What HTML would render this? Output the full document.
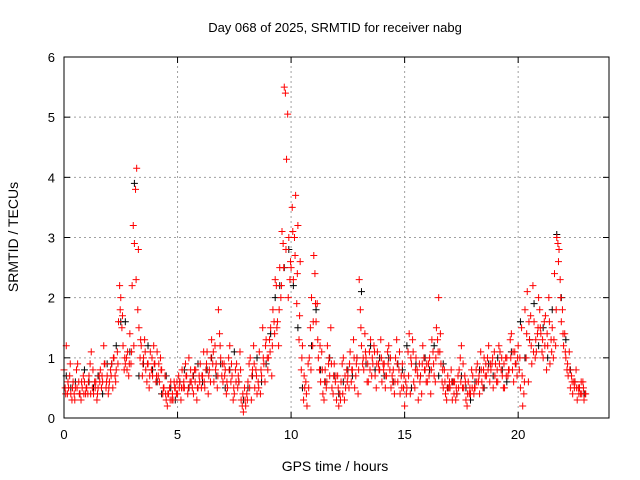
<!DOCTYPE html>
<html><head><meta charset="utf-8"><style>
body{margin:0;background:#fff;}
svg{display:block;font-family:"Liberation Sans",sans-serif;}
</style></head><body>
<svg id="chart" width="640" height="480">
<rect width="640" height="480" fill="#fff"/>
<text x="335" y="32" text-anchor="middle" font-size="13">Day 068 of 2025, SRMTID for receiver nabg</text>
<text x="335" y="471" text-anchor="middle" font-size="14">GPS time / hours</text>
<text transform="translate(18,237) rotate(-90)" text-anchor="middle" font-size="14">SRMTID / TECUs</text>
<g id="grid"></g><g id="ticks"></g><g id="black-series"></g><g id="red-series"></g>
<rect x="64" y="57" width="545" height="361" fill="none" stroke="#000" stroke-width="1"/>
</svg>
<script>
const xTicks=[0,5,10,15,20];
const yTicks=[0,1,2,3,4,5,6];
const redA=[0.8,1.2,0.5,0.4,0.6,0.5,0.9,0.4,0.5,0.6,
0.5,0.7,1.1,0.4,0.6,0.5,0.8,0.6,0.9,0.7,
0.6,0.9,1.0,0.8,1.6,2.0,1.2,0.9,1.1,1.4,
2.2,2.9,4.15,1.5,1.2,1.0,0.8,0.9,1.1,0.7,
0.9,1.1,0.6,0.8,0.5,0.3,0.4,0.6,0.3,0.5,
0.4,0.6,0.8,0.5,0.7,1.0,0.6,0.4,0.8,0.5,
0.9,0.7,0.5,1.1,0.8,1.3,0.6,0.9,1.8,1.0,
0.6,0.8,0.5,1.2,0.7,0.4,0.9,0.6,0.3,0.1,
0.2,0.6,1.0,0.8,0.5,0.4,1.1,0.7,0.9,1.3,
1.0,1.5,1.8,2.3,1.6,2.5,3.1,5.5,4.3,3.0,
2.5,2.3,3.7,3.2,2.6,1.2,0.5,0.2,1.0,2.0,
2.7,1.6,1.0,0.6,0.4,0.8,1.2,0.7,0.5,0.9,
0.3,0.2,0.6,1.0,0.5,0.7,1.1,0.8,0.5,1.0,
2.3,1.2,0.8,1.0,0.6,1.3,0.9,0.7,1.1,0.8,
0.6,0.9,0.7,1.2,0.5,0.8,1.0,0.6,0.4,0.9,
0.2,0.5,1.4,0.9,0.6,1.0,0.3,0.7,1.2,0.8,
0.6,1.0,1.3,0.7,1.5,2.0,0.9,0.5,0.4,0.7,
0.5,0.3,0.6,0.4,0.8,1.2,0.5,0.3,0.6,0.4,
0.7,0.5,0.9,0.4,0.6,1.0,0.7,1.2,0.8,0.5,
0.9,0.6,1.1,0.7,0.5,1.0,0.8,1.4,0.6,0.9,
1.2,0.5,0.2,1.8,2.1,1.3,0.9,1.6,1.1,2.0,
1.4,1.0,1.7,1.2,0.9,1.5,2.4,3.0,2.8,1.6,
1.2,1.0,0.7,0.5,0.4,0.6,0.3,0.5,0.4,0.3];
const redB=[0.5,0.4,0.7,0.3,0.4,0.8,0.6,0.3,0.7,0.4,
0.4,0.9,0.5,0.6,0.3,0.7,0.5,1.2,0.5,0.4,
0.8,0.5,0.7,1.1,2.2,1.5,0.8,1.0,0.7,0.9,
3.2,3.8,1.8,1.0,0.7,1.3,0.6,0.5,0.8,1.2,
0.6,0.7,1.0,0.4,0.7,0.2,0.5,0.3,0.6,0.4,
0.7,0.3,0.5,0.9,0.4,0.6,0.5,0.8,0.3,0.7,
0.5,1.1,0.8,0.4,0.6,0.9,1.2,0.5,1.4,0.7,
0.9,0.4,1.0,0.6,0.3,0.8,0.5,1.1,0.2,0.5,
0.4,0.9,0.3,1.2,0.8,0.6,0.4,1.5,0.6,1.0,
1.3,0.7,1.6,2.2,1.2,2.0,2.9,5.4,5.05,2.3,
3.5,3.0,1.9,1.3,0.8,0.3,0.6,0.9,1.5,1.2,
2.4,1.9,0.8,1.1,0.3,0.5,0.9,1.5,0.4,0.6,
0.7,0.4,0.9,0.3,0.8,0.5,0.6,1.3,0.7,0.4,
1.8,0.9,1.4,0.6,1.1,0.7,1.2,0.5,0.9,1.3,
0.9,0.5,1.1,0.8,0.7,0.4,1.3,0.8,0.7,0.5,
0.6,1.1,0.4,1.3,0.5,0.8,0.9,0.4,1.0,0.6,
0.9,0.4,1.1,0.6,1.3,1.1,0.6,0.8,0.3,0.5,
0.8,0.6,0.3,0.7,1.0,0.5,0.7,0.2,0.4,0.8,
0.4,0.8,0.6,1.1,0.5,0.7,1.0,0.6,0.9,1.1,
0.6,1.2,0.8,0.5,1.0,0.7,1.3,0.8,1.1,0.7,
0.8,1.5,0.4,1.0,0.6,1.7,2.2,1.0,1.4,1.8,
1.1,1.6,0.8,2.0,1.3,1.0,1.2,2.9,2.3,1.8,
1.4,0.8,1.1,0.7,0.6,0.8,0.5,0.4,0.6,0.4];
const redC=[0.4,0.6,0.9,0.5,0.3,0.5,0.4,0.6,0.4,0.5,
0.6,0.4,0.8,0.5,0.4,0.6,0.7,0.9,0.6,0.5,
0.7,1.0,0.6,0.9,1.8,1.7,1.0,0.8,0.9,1.1,
1.2,2.3,2.8,1.3,0.9,1.1,0.9,0.7,1.0,0.9,
0.7,0.9,0.8,0.5,0.4,0.4,0.3,0.4,0.5,0.6,
0.5,0.5,0.6,0.7,0.5,0.8,0.7,0.6,0.5,0.6,
0.7,0.6,0.9,0.7,1.0,1.1,0.8,0.7,1.2,0.9,
0.7,0.6,0.8,0.9,0.5,0.6,0.7,0.8,0.4,0.3,
0.3,0.5,0.7,0.9,0.7,0.5,0.8,1.0,1.2,0.8,
1.1,1.2,1.4,1.5,1.8,2.2,2.5,2.8,2.0,2.6,
3.1,2.7,2.4,1.7,1.0,0.7,0.4,0.5,0.8,1.6,
1.9,1.3,1.2,0.8,0.6,0.6,1.0,0.9,0.7,0.7,
0.5,0.3,0.4,0.7,0.6,0.9,0.8,1.0,0.9,0.8,
1.5,1.0,1.1,0.9,0.8,1.0,1.1,0.9,0.8,1.0,
0.8,0.7,0.9,1.0,0.6,0.6,0.9,1.1,0.5,0.7,
0.4,0.7,1.0,1.1,0.8,0.7,0.6,0.9,0.8,0.9,
0.7,0.8,0.9,1.0,1.1,1.4,0.8,0.6,0.5,0.6,
0.6,0.4,0.5,0.5,0.6,0.9,0.6,0.4,0.5,0.5,
0.5,0.6,0.7,0.8,0.8,0.9,0.8,0.9,1.0,0.7,
0.8,0.9,1.0,0.9,0.7,0.8,1.0,1.1,0.9,1.0,
1.0,0.7,0.6,1.4,1.6,1.2,1.1,1.3,1.5,1.5,
1.3,1.2,1.4,1.6,1.1,1.3,1.8,2.6,2.0,1.4,
1.1,0.9,0.8,0.6,0.5,0.5,0.4,0.6,0.5,0.4];
const blackV=[0.7,0.5,0.6,0.4,0.8,0.6,0.5,0.7,0.4,0.9,
0.9,1.2,1.6,1.6,1.1,3.9,0.7,0.9,1.2,0.8,
0.6,0.4,0.7,0.5,0.3,0.6,0.8,0.5,0.7,0.9,
0.6,0.8,1.0,0.7,0.9,0.5,0.8,1.1,0.6,0.3,
0.5,0.7,1.0,0.6,0.9,1.4,2.0,2.2,2.5,2.8,
2.2,1.5,0.5,0.2,1.2,1.8,0.8,0.6,1.0,0.7,
0.4,0.6,0.8,0.7,1.0,2.1,0.9,1.2,0.8,1.0,
0.7,1.0,0.6,0.9,0.8,1.2,0.5,0.9,0.7,1.0,
0.8,1.2,0.7,0.9,0.5,0.6,0.4,0.7,0.5,0.3,
0.6,0.8,0.5,0.9,0.7,1.0,0.8,0.6,1.1,0.9,
1.6,1.0,1.3,1.9,1.2,1.5,1.0,1.8,3.05,2.0,
1.3,0.8,0.6,0.5,0.4];
const NS="http://www.w3.org/2000/svg";
const X0=64,X1=609,Y0=418,Y1=57,XMAX=24,YMAX=6;
const sx=v=>X0+(X1-X0)*v/XMAX, sy=v=>Y0-(Y0-Y1)*v/YMAX;
function mk(tag,attrs,parent){const e=document.createElementNS(NS,tag);for(const k in attrs)e.setAttribute(k,attrs[k]);parent.appendChild(e);return e;}
const grid=document.getElementById('grid'),ticks=document.getElementById('ticks');
xTicks.forEach(t=>{const x=sx(t);
 if(t>0){const g=mk('line',{x1:x,y1:Y0,x2:x,y2:Y1,stroke:'#a0a0a0','stroke-dasharray':'2,3'},grid);
 
 }
 mk('line',{x1:x,y1:Y0,x2:x,y2:Y0-6,stroke:'#000'},ticks);mk('line',{x1:x,y1:Y1,x2:x,y2:Y1+6,stroke:'#000'},ticks);
 const l=mk('text',{x:x,y:Y0+21,'text-anchor':'middle','font-size':13},ticks);l.textContent=t;
 
 });
yTicks.forEach(t=>{const y=sy(t);
 if(t>0&&t<6){const g=mk('line',{x1:X0,y1:y,x2:X1,y2:y,stroke:'#a0a0a0','stroke-dasharray':'2,3'},grid);
 
 }
 mk('line',{x1:X0,y1:y,x2:X0+6,y2:y,stroke:'#000'},ticks);mk('line',{x1:X1,y1:y,x2:X1-6,y2:y,stroke:'#000'},ticks);
 const l=mk('text',{x:X0-9,y:y+5,'text-anchor':'end','font-size':13},ticks);l.textContent=t;
 
 });
function plus(g,t,v,c){const x=sx(t),y=sy(v);
 const p=mk('path',{d:`M${x-3.5},${y}H${x+3.5}M${x},${y-3.5}V${y+3.5}`,stroke:c,'stroke-width':1,fill:'none'},g);
 
 }
const bg=document.getElementById('black-series'),rg=document.getElementById('red-series');
blackV.forEach((v,i)=>plus(bg,0.1+i*0.2,v,'#000'));
redA.forEach((v,i)=>plus(rg,i*0.1,v,'#ff0000'));
redB.forEach((v,i)=>plus(rg,0.05+i*0.1,v,'#ff0000'));
redC.forEach((v,i)=>plus(rg,0.075+i*0.1,v,'#ff0000'));
</script>
</body></html>
